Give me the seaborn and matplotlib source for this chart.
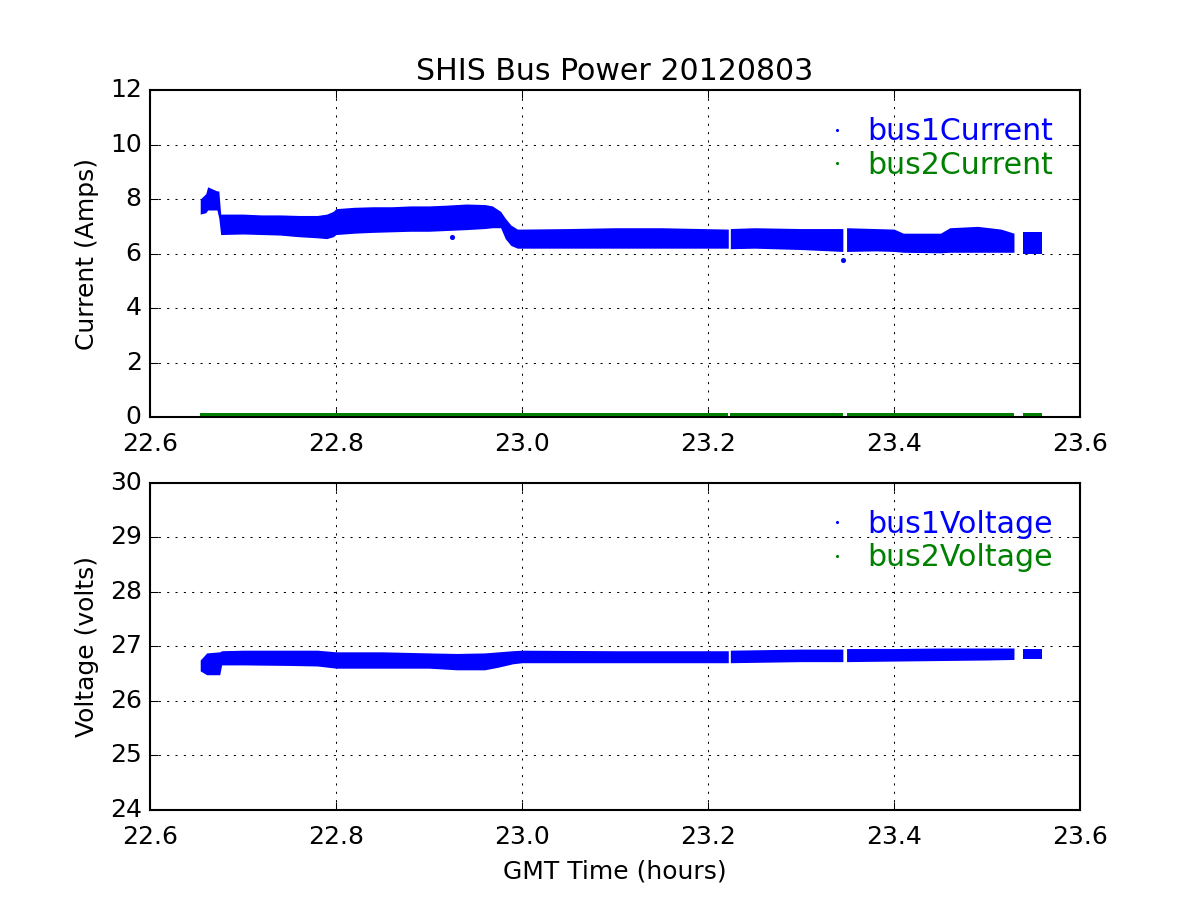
import numpy as np
import pandas as pd
import seaborn as sns
import matplotlib.pyplot as plt
from matplotlib.lines import Line2D

plt.style.use('classic')

# bus1Current point cloud: time (hours), lower / upper edge of the cloud (Amps)
cur1_time = [22.654, 22.660, 22.662, 22.672, 22.674, 22.676, 22.70, 22.72, 22.74, 22.76,
             22.78, 22.79, 22.797, 22.80, 22.82, 22.84, 22.86, 22.88, 22.90, 22.92,
             22.94, 22.96, 22.968, 22.977, 22.982, 22.988, 22.995, 23.00, 23.05, 23.10,
             23.15, 23.2218, 23.224, 23.25, 23.30, 23.345, 23.349, 23.38, 23.40, 23.41,
             23.45, 23.46, 23.49, 23.515, 23.529, 23.539, 23.559]
cur1_low = [7.45, 7.50, 7.60, 7.60, 7.30, 6.70, 6.72, 6.70, 6.68, 6.62,
            6.58, 6.55, 6.62, 6.70, 6.75, 6.78, 6.80, 6.82, 6.82, 6.85,
            6.88, 6.92, 6.95, 6.95, 6.55, 6.30, 6.20, 6.20, 6.20, 6.20,
            6.20, 6.20, 6.18, 6.20, 6.15, 6.08, 6.08, 6.10, 6.08, 6.05,
            6.03, 6.05, 6.05, 6.05, 6.05, 6.00, 6.00]
cur1_high = [8.00, 8.20, 8.45, 8.30, 8.30, 7.45, 7.45, 7.42, 7.42, 7.40,
             7.40, 7.45, 7.55, 7.65, 7.70, 7.72, 7.72, 7.75, 7.75, 7.78,
             7.82, 7.80, 7.75, 7.55, 7.30, 7.05, 6.90, 6.90, 6.92, 6.95,
             6.95, 6.90, 6.92, 6.95, 6.92, 6.92, 6.95, 6.92, 6.90, 6.75,
             6.75, 6.95, 7.00, 6.90, 6.75, 6.80, 6.80]
cur1_out_time = [23.3456, 22.925]
cur1_out_val = [5.78, 6.60]

# bus2Current sits just above zero
cur2_time = [22.654, 23.00, 23.2218, 23.224, 23.345, 23.349, 23.529, 23.539, 23.559]
cur2_low = [0.03, 0.03, 0.03, 0.03, 0.03, 0.03, 0.03, 0.03, 0.03]
cur2_high = [0.14, 0.14, 0.14, 0.14, 0.14, 0.14, 0.14, 0.14, 0.14]

# bus1Voltage point cloud (volts)
volt1_time = [22.654, 22.661, 22.675, 22.677, 22.70, 22.75, 22.78, 22.80, 22.85, 22.90,
              22.93, 22.96, 22.975, 22.99, 23.00, 23.10, 23.2218, 23.224, 23.30, 23.345,
              23.349, 23.40, 23.45, 23.50, 23.529, 23.539, 23.559]
volt1_low = [26.55, 26.48, 26.48, 26.66, 26.66, 26.65, 26.64, 26.60, 26.60, 26.60,
             26.57, 26.57, 26.62, 26.68, 26.70, 26.70, 26.70, 26.70, 26.72, 26.72,
             26.72, 26.73, 26.74, 26.75, 26.76, 26.77, 26.77]
volt1_high = [26.75, 26.88, 26.90, 26.92, 26.93, 26.93, 26.93, 26.90, 26.90, 26.88,
              26.87, 26.88, 26.90, 26.92, 26.93, 26.92, 26.92, 26.93, 26.95, 26.95,
              26.96, 26.96, 26.97, 26.97, 26.97, 26.96, 26.96]

# bus2Voltage reads zero, below the plotted range
volt2_time = [22.654, 23.00, 23.559]
volt2_val = [0.0, 0.0, 0.0]

# data gaps where no samples were logged
gaps = [23.223, 23.347, 23.534]


def band(ax, t, lo, hi, color):
    df = pd.DataFrame({'time': list(t) + list(t), 'value': list(lo) + list(hi)})
    df['seg'] = np.digitize(df['time'], gaps)
    for s, part in df.groupby('seg'):
        sns.lineplot(data=part, x='time', y='value', ax=ax, color=color,
                     linewidth=0, legend=False,
                     errorbar=lambda v: (v.min(), v.max()),
                     err_kws={'alpha': 1, 'linewidth': 0, 'zorder': 3})


fig, (ax1, ax2) = plt.subplots(2, 1, figsize=(8, 6))

band(ax1, cur1_time, cur1_low, cur1_high, 'b')
band(ax1, cur2_time, cur2_low, cur2_high, 'g')
sns.scatterplot(x=cur1_out_time, y=cur1_out_val, ax=ax1, color='b', s=6, linewidth=0)
ax1.set_xlim(22.6, 23.6)
ax1.set_ylim(0, 12)
ax1.set_xlabel('')
ax1.set_ylabel('Current (Amps)')
ax1.set_title('SHIS Bus Power 20120803')
ax1.grid(True)

band(ax2, volt1_time, volt1_low, volt1_high, 'b')
sns.scatterplot(x=volt2_time, y=volt2_val, ax=ax2, color='g', s=6, linewidth=0)
ax2.set_xlim(22.6, 23.6)
ax2.set_ylim(24, 30)
ax2.set_xlabel('GMT Time (hours)')
ax2.set_ylabel('Voltage (volts)')
ax2.grid(True)

for ax, names in [(ax1, ['bus1Current', 'bus2Current']), (ax2, ['bus1Voltage', 'bus2Voltage'])]:
    ax.tick_params(axis='x', pad=7)
    handles = [Line2D([], [], marker='.', linestyle='none', color=c, markersize=3,
                      markeredgewidth=0) for c in ['b', 'g']]
    leg = ax.legend(handles, names, loc='upper right', frameon=False, numpoints=1,
                    handlelength=0.6, handletextpad=0.7, labelspacing=0.15)
    for txt, c in zip(leg.get_texts(), ['b', 'g']):
        txt.set_color(c)

fig.savefig('out.png', dpi=150)
